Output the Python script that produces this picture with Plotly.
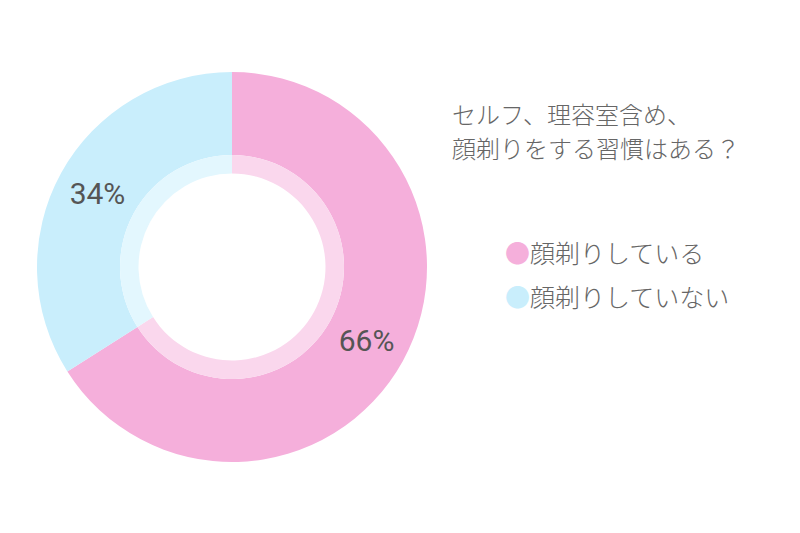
import plotly.graph_objects as go

labels = ["顔剃りしている", "顔剃りしていない"]
values = [66, 34]
colors = ["#F5AFDB", "#C9EEFC"]
inner_colors = ["#FAD7ED", "#E3F7FE"]
title_lines = ["セルフ、理容室含め、", "顔剃りをする習慣はある？"]

W, H = 800, 533
OFF = 8  # page body margin
cx, cy = 232 - OFF, 267 - OFF
R_out, R_mid, R_in = 195, 112, 93.5

def dom(r):
    return dict(x=[(cx - r) / W, (cx + r) / W], y=[(H - cy - r) / H, (H - cy + r) / H])

fig = go.Figure()
fig.add_trace(go.Pie(
    labels=labels, values=values, hole=R_mid / R_out, sort=False,
    direction="clockwise", rotation=0, domain=dom(R_out),
    marker=dict(colors=colors, line=dict(width=0)),
    texttemplate="%{percent:.0%}", textposition="inside",
    insidetextorientation="horizontal",
    textfont=dict(family="Roboto", size=30, color="#555555"),
    showlegend=False, hoverinfo="label+percent",
))
fig.add_trace(go.Pie(
    labels=labels, values=values, hole=R_in / R_mid, sort=False,
    direction="clockwise", rotation=0, domain=dom(R_mid),
    marker=dict(colors=inner_colors, line=dict(width=0)),
    textinfo="none", showlegend=False, hoverinfo="skip",
))

font_jp = "Noto Sans CJK JP"
for i, line in enumerate(title_lines):
    fig.add_annotation(
        x=(450 - OFF) / W, y=1 - (113 - OFF + i * 34) / H, xref="paper", yref="paper",
        xanchor="left", yanchor="middle", align="left",
        text=line, showarrow=False,
        font=dict(family=font_jp, size=24, color="#666666", weight=300),
    )
for i, (lab, col) in enumerate(zip(labels, colors)):
    fig.add_annotation(
        x=(503 - OFF) / W, y=1 - (252 - OFF + i * 44) / H, xref="paper", yref="paper",
        xanchor="left", yanchor="middle", align="left", showarrow=False,
        text=f'<span style="color:{col}">●</span>{lab}',
        font=dict(family=font_jp, size=25, color="#666666", weight=300),
    )

fig.update_layout(
    width=W, height=H, margin=dict(l=0, r=0, t=0, b=0),
    paper_bgcolor="white", plot_bgcolor="white",
)
fig.write_html("out.html")
